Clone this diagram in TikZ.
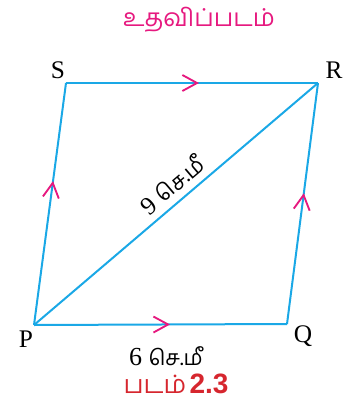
\documentclass[tikz,border=0pt]{standalone}
\usepackage{fontspec}
\setmainfont{Liberation Serif}
\newfontfamily\tam[Script=Tamil]{Hind Madurai}
\newfontfamily\arsans{Liberation Sans}
\usetikzlibrary{decorations.markings}
\definecolor{edgecyan}{HTML}{1AA8E6}
\definecolor{chevmag}{HTML}{E6197F}
\definecolor{capred}{HTML}{D6262E}
\tikzset{
  edge/.style={draw=edgecyan, line width=1.5pt, line join=miter},
  chev/.style={postaction={decorate}, decoration={markings,
     mark=at position #1 with {\draw[chevmag, line width=1.4pt, line join=miter] (-11pt,-6pt) -- (0,0) -- (-11pt,6pt);}}},
  vlabel/.style={font=\fontsize{19}{21}\selectfont, inner sep=0pt},
}
\begin{document}
\begin{tikzpicture}[x=0.75pt,y=-0.75pt]
\useasboundingbox (0,0) rectangle (350,406);
\coordinate (P) at (34,325);
\coordinate (Q) at (287,324);
\coordinate (R) at (318,83);
\coordinate (S) at (66,83);
\draw[edge, chev=0.587] (P) -- (S);
\draw[edge, chev=0.52] (S) -- (R);
\draw[edge, chev=0.535] (Q) -- (R);
\draw[edge, chev=0.53] (P) -- (Q);
\draw[edge] (P) -- (R) node[pos=0.525, sloped, above=5pt, inner sep=0pt, font=\fontsize{19}{21}\selectfont] (dl) {9 {\tam\fontsize{16.5}{18}\selectfont செ.மீ}};
\node[vlabel] (ls) at (58,70) {S};
\node[vlabel] (lr) at (334,70) {R};
\node[vlabel] (lp) at (26,339) {P};
\node[vlabel] (lq) at (303,336) {Q};
\node[inner sep=0pt, text=chevmag, font=\tam\fontsize{18.5}{20}\selectfont] (title) at (199,20) {உதவிப்படம்};
\node[inner sep=0pt, font=\fontsize{19.5}{21}\selectfont] (bl) at (166,356) {6 {\tam\fontsize{16}{18}\selectfont செ.மீ}};
\node[inner sep=0pt, text=capred] (cap) at (176,384) {{\tam\fontsize{19}{21}\selectfont படம்} {\arsans\bfseries\fontsize{21}{23}\selectfont 2.3}};
\end{tikzpicture}
\end{document}
